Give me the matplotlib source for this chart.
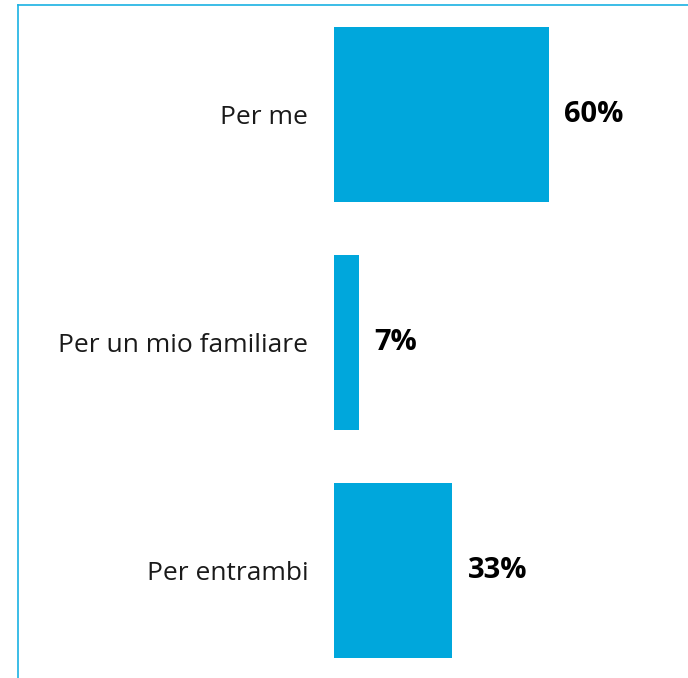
import matplotlib.pyplot as plt
from matplotlib.lines import Line2D

# Data
categories = ['Per me', 'Per un mio familiare', 'Per entrambi']
values = [60, 7, 33]  # percent

bar_color = '#00a7dc'
frame_color = '#1ab2e3'

fig = plt.figure(figsize=(6.88, 6.78), dpi=100)
W, H = 688, 678

# Axes starts where the bars start; x scale ~3.58 px per percent
ax = fig.add_axes([334 / W, 0, (W - 334) / W, 1])
ax.barh(range(len(categories)), values, height=0.7675, color=bar_color)

ax.set_xlim(0, (W - 334) / 3.583)
ax.set_ylim(2 + (H - 570.5) / 228, -114.5 / 228)

ax.set_yticks(range(len(categories)))
ax.set_yticklabels(categories, fontsize=19, color='#1a1a1a', family='Open Sans')
ax.tick_params(axis='y', length=0, pad=18.5)
ax.set_xticks([])
for s in ax.spines.values():
    s.set_visible(False)
ax.patch.set_alpha(0)

# Value labels
for i, v in enumerate(values):
    ax.text(v + 4.3, i, f'{v}%', va='center', ha='left',
            fontsize=21, fontweight='bold', color='black', family='Open Sans')

# Light blue frame on top and left
fig.add_artist(Line2D([17.5 / W, 17.5 / W], [0, 1 - 4.5 / H], color=frame_color, lw=1.2))
fig.add_artist(Line2D([17.5 / W, 1], [1 - 4.5 / H, 1 - 4.5 / H], color=frame_color, lw=1.2))

fig.savefig('out.png', dpi=100)
